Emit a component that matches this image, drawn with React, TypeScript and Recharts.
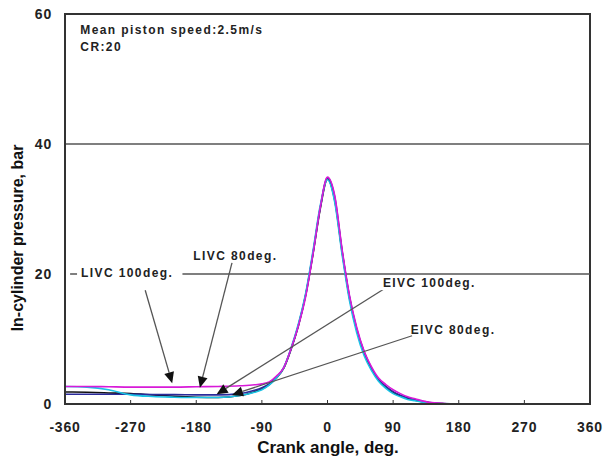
import React from 'react';
import { LineChart, Line, XAxis, YAxis, ReferenceLine, ReferenceArea, ReferenceDot } from 'recharts';

const angles = [-360, -330, -300, -270, -240, -210, -180, -150, -120, -100, -90, -80, -70, -60, -50, -40, -30, -20, -10, 0, 10, 20, 30, 40, 50, 60, 70, 80, 90, 100, 110, 120, 140, 160, 180];
const livc100 = [2.7, 2.7, 2.65, 2.6, 2.6, 2.6, 2.65, 2.7, 2.8, 2.95, 3.1, 3.4, 4.3, 5.6, 8.5, 12.0, 16.5, 23.0, 30.2, 34.9, 32.0, 23.8, 16.8, 11.8, 8.2, 5.8, 4.0, 3.0, 2.2, 1.6, 1.1, 0.8, 0.25, 0.08, 0.0];
const livc80 = [2.7, 2.6, 2.2, 1.4, 1.15, 1.05, 1.0, 1.0, 1.3, 1.8, 2.2, 2.9, 4.0, 5.6, 8.6, 12.3, 17.0, 23.5, 30.5, 34.5, 31.0, 23.0, 16.0, 11.0, 7.5, 5.2, 3.5, 2.4, 1.6, 1.1, 0.7, 0.5, 0.15, 0.03, 0.0];
const eivc100 = [1.5, 1.5, 1.5, 1.5, 1.45, 1.45, 1.4, 1.4, 1.6, 2.1, 2.5, 3.1, 4.1, 5.6, 8.5, 12.1, 16.8, 23.2, 30.2, 34.8, 31.8, 23.6, 16.6, 11.6, 8.1, 5.6, 3.8, 2.7, 1.9, 1.35, 0.95, 0.65, 0.22, 0.06, 0.0];
const eivc80 = [1.85, 1.8, 1.7, 1.6, 1.4, 1.2, 1.05, 1.0, 1.3, 1.9, 2.3, 3.0, 4.0, 5.5, 8.4, 12.0, 16.7, 23.0, 30.0, 34.6, 31.3, 23.4, 16.4, 11.4, 7.9, 5.4, 3.7, 2.6, 1.8, 1.25, 0.85, 0.6, 0.2, 0.05, 0.0];

const xTicks = [-360, -270, -180, -90, 0, 90, 180, 270, 360];
const yTicks = [0, 20, 40, 60];

const series = [
  { key: 'eivc80', name: 'EIVC 80deg.', values: eivc80, color: '#111111' },
  { key: 'eivc100', name: 'EIVC 100deg.', values: eivc100, color: '#2a2a9a' },
  { key: 'livc80', name: 'LIVC 80deg.', values: livc80, color: '#19c3e6' },
  { key: 'livc100', name: 'LIVC 100deg.', values: livc100, color: '#d81ad8' },
];

const data = angles.map((a, i) => {
  const row: Record<string, number> = { angle: a };
  series.forEach((s) => { row[s.key] = s.values[i]; });
  return row;
});

const notes: { text: string; x: number; y: number; box?: [number, number] }[] = [
  { text: 'Mean piston speed:2.5m/s', x: -339, y: 57.5 },
  { text: 'CR:20', x: -339, y: 55.0 },
  { text: 'LIVC 100deg.', x: -338, y: 20.1, box: [4, 9] },
  { text: 'LIVC 80deg.', x: -184, y: 22.8 },
  { text: 'EIVC 100deg.', x: 76, y: 18.6, box: [11, 19] },
  { text: 'EIVC 80deg.', x: 114, y: 11.4 },
];

const arrows: { from: [number, number]; to: [number, number] }[] = [
  { from: [-250, 17.5], to: [-213, 3.2] },
  { from: [-131, 21.7], to: [-175, 2.5] },
  { from: [79, 17.8], to: [-152, 1.5] },
  { from: [116, 10.5], to: [-131, 1.4] },
];

const FONT = '"Liberation Sans", Arial, sans-serif';

const ArrowShape = (p: any) => {
  const { x1, y1, x2, y2 } = p;
  const dx = x2 - x1;
  const dy = y2 - y1;
  const len = Math.sqrt(dx * dx + dy * dy) || 1;
  const ux = dx / len;
  const uy = dy / len;
  const hl = 11;
  const hw = 5;
  const bx = x2 - ux * hl;
  const by = y2 - uy * hl;
  const pts = `${x2},${y2} ${bx - uy * hw},${by + ux * hw} ${bx + uy * hw},${by - ux * hw}`;
  return (
    <g>
      <line x1={x1} y1={y1} x2={bx} y2={by} stroke="#555" strokeWidth={1.3} />
      <polygon points={pts} fill="#111" />
    </g>
  );
};

const makeNote = (text: string, box?: [number, number]) => (props: any) => {
  const vb = props.viewBox || {};
  const x = vb.x ?? 0;
  const y = vb.y ?? 0;
  const w = text.length * 7.7;
  return (
    <g>
      {box && <rect x={x - box[0]} y={y - 7} width={w + box[0] + box[1]} height={14} fill="#fff" />}
      <text x={x} y={y} dominantBaseline="central" fontFamily={FONT} fontWeight="bold" fontSize={12} letterSpacing={1.4} fill="#222">
        {text}
      </text>
    </g>
  );
};

const YTitle = () => {
  const cx = 17;
  const cy = 238;
  return (
    <text x={cx} y={cy} transform={`rotate(-90 ${cx} ${cy})`} textAnchor="middle" dominantBaseline="central"
      fontFamily={FONT} fontWeight="bold" fontSize={16} fill="#111">
      In-cylinder pressure, bar
    </text>
  );
};

const XTitle = () => (
  <text x={328} y={447} textAnchor="middle" dominantBaseline="central" fontFamily={FONT} fontWeight="bold" fontSize={17} fill="#111">
    Crank angle, deg.
  </text>
);

const tickStyle = { fontFamily: FONT, fontWeight: 'bold', fontSize: 14, fill: '#222', letterSpacing: 0.8 };

export default function App() {
  return (
    <div style={{ position: 'absolute', left: 0, top: 0, background: '#fff' }}>
      <LineChart width={606} height={465} data={data} margin={{ top: 14, right: 16, bottom: 0, left: 0 }}>
        <XAxis
          dataKey="angle"
          type="number"
          domain={[-360, 360]}
          ticks={xTicks}
          interval={0}
          axisLine={{ stroke: '#333', strokeWidth: 2 }}
          tickLine={{ stroke: '#333' }}
          tickSize={-4}
          tickMargin={22}
          height={61}
          tick={tickStyle}
          label={<XTitle />}
        />
        <YAxis
          type="number"
          domain={[0, 60]}
          ticks={yTicks}
          interval={0}
          width={65}
          axisLine={{ stroke: '#333', strokeWidth: 2 }}
          tickLine={false}
          tickSize={0}
          tickMargin={13}
          tick={tickStyle}
          label={<YTitle />}
        />
        <ReferenceLine y={40} stroke="#555" strokeWidth={1.5} />
        <ReferenceLine segment={[{ x: -353, y: 20 }, { x: 360, y: 20 }]} stroke="#555" strokeWidth={1.5} />
        <ReferenceArea x1={-360} x2={360} y1={0} y2={60} fill="none" stroke="#333" strokeWidth={2} fillOpacity={0} />
        {series.map((s) => (
          <Line
            key={s.key}
            dataKey={s.key}
            name={s.name}
            stroke={s.color}
            strokeWidth={1.6}
            dot={false}
            type="monotone"
            isAnimationActive={false}
          />
        ))}
        {arrows.map((a, i) => (
          <ReferenceLine
            key={'arr' + i}
            segment={[{ x: a.from[0], y: a.from[1] }, { x: a.to[0], y: a.to[1] }]}
            shape={ArrowShape}
          />
        ))}
        {notes.map((n, i) => (
          <ReferenceDot key={'n' + i} x={n.x} y={n.y} r={0} fill="none" stroke="none" label={{ content: makeNote(n.text, n.box) }} />
        ))}
      </LineChart>
    </div>
  );
}
